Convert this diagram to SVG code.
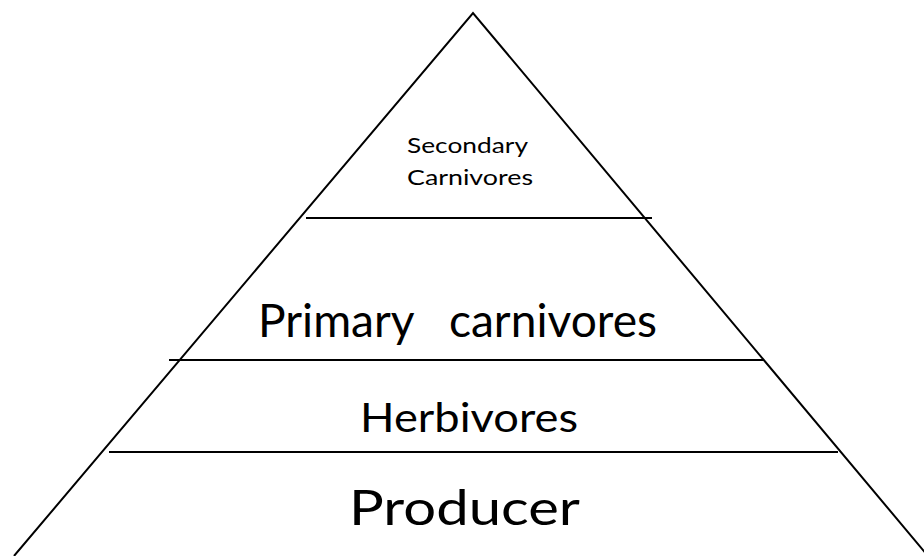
<svg xmlns="http://www.w3.org/2000/svg" width="924" height="556" viewBox="0 0 924 556">
<style>
.ln{stroke:#000;stroke-width:2;fill:none}
.t{font-family:Lato,"Open Sans","Liberation Sans",sans-serif;fill:#000}
</style>
<rect width="924" height="556" fill="#fff"/>
<g id="connectors">
<polyline class="ln" points="14,556 473,13 928,556"/>
<line class="ln" x1="306" y1="218" x2="652" y2="218"/>
<line class="ln" x1="169" y1="360" x2="764" y2="360"/>
<line class="ln" x1="109" y1="452" x2="838" y2="452"/>
</g>
<g id="secondary">
<text class="t" x="407" y="153" font-size="22" textLength="121" lengthAdjust="spacingAndGlyphs">Secondary</text>
<text class="t" x="407" y="185" font-size="22" textLength="126" lengthAdjust="spacingAndGlyphs">Carnivores</text>
</g>
<g id="primary">
<text class="t" x="258" y="337" font-size="46" textLength="399" lengthAdjust="spacingAndGlyphs" xml:space="preserve">Primary   carnivores</text>
</g>
<g id="herbivores">
<text class="t" x="360" y="432" font-size="40" textLength="218" lengthAdjust="spacingAndGlyphs">Herbivores</text>
</g>
<g id="producer">
<text class="t" x="349" y="525" font-size="49" textLength="231" lengthAdjust="spacingAndGlyphs">Producer</text>
</g>
</svg>
